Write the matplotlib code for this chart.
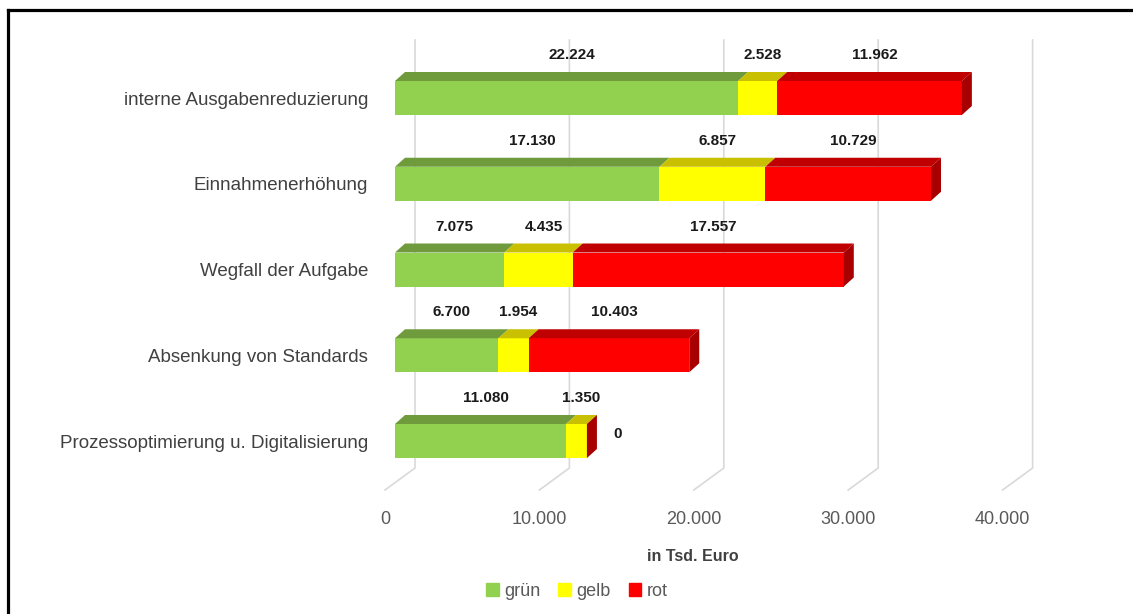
import numpy as np
import matplotlib.pyplot as plt
from matplotlib.patches import Polygon, Patch
from matplotlib.lines import Line2D

plt.rcParams['font.family'] = ['Liberation Sans', 'DejaVu Sans']

categories = ['interne Ausgabenreduzierung', 'Einnahmenerhöhung', 'Wegfall der Aufgabe',
              'Absenkung von Standards', 'Prozessoptimierung u. Digitalisierung']
gruen = [22224, 17130, 7075, 6700, 11080]
gelb = [2528, 6857, 4435, 1954, 1350]
rot = [11962, 10729, 17557, 10403, 0]
series_names = ['grün', 'gelb', 'rot']
x_ticks = [0, 10000, 20000, 30000, 40000]

front_cols = ['#92D050', '#FFFF00', '#FF0000']
top_cols = ['#6F9B3C', '#C8C000', '#C00000']
side_col = '#A80000'

fig = plt.figure(figsize=(11.33, 6.14), dpi=100)
W, H = 1133, 614
# axes = front plane, pixel box 395..1012.6 x 40..490
ax = fig.add_axes([395 / W, 1 - 490 / H, 617.6 / W, 450 / H])
ax.set_xlim(0, 40000)
ax.set_ylim(4.5714, -0.6764)
for s in ax.spines.values():
    s.set_visible(False)

ux = 40000 / 617.6   # data units per pixel in x
uy = 1 / 85.75       # data units per pixel in y

# 3d grid lines: back wall + floor diagonal
for v in x_ticks:
    ax.plot([v + 20 * ux, v + 20 * ux, v - 10 * ux], [-0.6764, 4.315, 4.5714],
            color='#D9D9D9', lw=1.2, clip_on=False, zorder=0)

h = 34 * uy
dx = 10 * ux
dy = 9 * uy
n = len(categories)
y = np.arange(n)
vals = [gruen, gelb, rot]
left = np.zeros(n)
for k in range(3):
    v = np.array(vals[k], dtype=float)
    ax.barh(y, v, left=left, height=h, color=front_cols[k], zorder=2)
    for i in range(n):
        l, r = left[i], left[i] + v[i]
        yt = y[i] - h / 2
        if v[i] > 0:
            ax.add_patch(Polygon([(l, yt), (r, yt), (r + dx, yt - dy), (l + dx, yt - dy)],
                                 closed=True, color=top_cols[k], lw=0, zorder=2, clip_on=False))
            ax.text((l + r) / 2 + dx / 2, yt - 26 * uy, f'{int(v[i]):,}'.replace(',', '.'),
                    ha='center', va='center', fontsize=11, fontweight='bold', color='#1a1a1a')
        else:
            ax.text(r + 31 * ux, y[i] - 7 * uy, '0', ha='center', va='center',
                    fontsize=11, fontweight='bold', color='#1a1a1a')
    left = left + v

for i in range(n):
    R = left[i]
    yt, yb = y[i] - h / 2, y[i] + h / 2
    ax.add_patch(Polygon([(R, yt), (R, yb), (R + dx, yb - dy), (R + dx, yt - dy)],
                         closed=True, color=side_col, lw=0, zorder=2, clip_on=False))

ax.set_yticks(y)
ax.set_yticklabels(categories, fontsize=13.5, color='#404040')
ax.tick_params(axis='y', length=0, pad=19.4)
ax.set_xticks(x_ticks)
ax.set_xticklabels([f'{t:,}'.replace(',', '.') for t in x_ticks], fontsize=13, color='#595959')
ax.tick_params(axis='x', length=0, pad=15)
import matplotlib.transforms as mtransforms
off = mtransforms.ScaledTranslation(-10 / 100, 0, fig.dpi_scale_trans)
for lab in ax.get_xticklabels():
    lab.set_transform(lab.get_transform() + off)
ax.set_xlabel('in Tsd. Euro', fontsize=11.5, fontweight='bold', color='#404040')
ax.xaxis.set_label_coords((693 - 395) / 617.6, (490 - 549) / 450)

handles = [Patch(color=c) for c in front_cols]
fig.legend(handles, series_names, loc='center', bbox_to_anchor=(577 / W, 1 - 591 / H),
           ncol=3, frameon=False, fontsize=13, handlelength=0.7, handleheight=0.7,
           handletextpad=0.3, columnspacing=1.0, labelcolor='#595959')

# frame
fig.add_artist(Line2D([8 / W, 8 / W], [0, 1 - 10 / H], color='black', lw=2.3))
fig.add_artist(Line2D([8 / W, 1], [1 - 10 / H, 1 - 10 / H], color='black', lw=2.3))

fig.savefig('out.png', dpi=100)
